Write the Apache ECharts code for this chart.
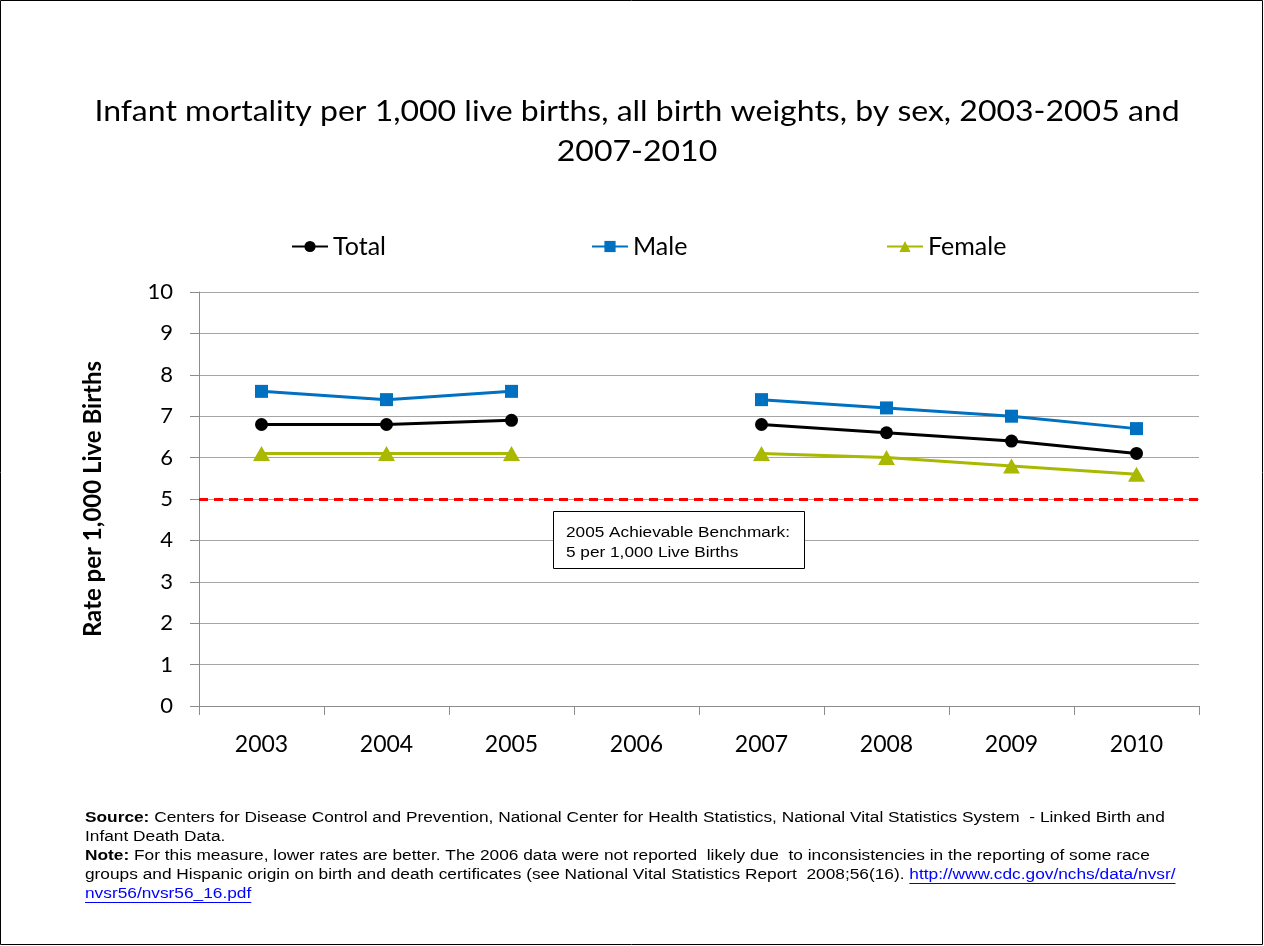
<!DOCTYPE html>
<html>
<head>
<meta charset="utf-8">
<script src="https://cdn.jsdelivr.net/npm/echarts@6/dist/echarts.min.js"></script>
<style>
html,body{margin:0;padding:0;background:#fff;}
#main{width:1264px;height:946px;}
</style>
</head>
<body>
<div id="main"></div>
<script>
const years = ['2003','2004','2005','2006','2007','2008','2009','2010'];
const totalRates = [6.8, 6.8, 6.9, null, 6.8, 6.6, 6.4, 6.1];
const maleRates = [7.6, 7.4, 7.6, null, 7.4, 7.2, 7.0, 6.7];
const femaleRates = [6.1, 6.1, 6.1, null, 6.1, 6.0, 5.8, 5.6];
const benchmark = 5;
const yTicks = [0,1,2,3,4,5,6,7,8,9,10];

const titleText = 'Infant mortality per 1,000 live births, all birth weights, by sex, 2003-2005 and\n2007-2010';
const boxText = '2005 Achievable Benchmark:\n5 per 1,000 Live Births';
const srcLine1 = 'Centers for Disease Control and Prevention, National Center for Health Statistics, National Vital Statistics System  - Linked Birth and';
const srcLine2 = 'Infant Death Data.';
const noteLine1 = 'For this measure, lower rates are better. The 2006 data were not reported  likely due  to inconsistencies in the reporting of some race';
const noteLine2 = 'groups and Hispanic origin on birth and death certificates (see National Vital Statistics Report  2008;56(16). ';
const link1 = 'http://www.cdc.gov/nchs/data/nvsr/';
const link2 = 'nvsr56/nvsr56_16.pdf';

const chart = echarts.init(document.getElementById('main'));
const calibri = 'Lato, "Open Sans", sans-serif';
const arial = '"Liberation Sans", Arial, sans-serif';
const legendText = {fontFamily: calibri, fontSize: 25, color: '#000'};

// measure text to place link underlines
const cv = document.createElement('canvas').getContext('2d');
cv.font = '14px ' + arial;
const link1Start = cv.measureText(noteLine2).width;
const link1W = cv.measureText(link1).width;
const link2W = cv.measureText(link2).width;
const footScale = 1.235;

const option = {
  backgroundColor: '#fff',
  animation: false,
  legend: [
    {data: ['Total'], left: 286, top: 229, itemWidth: 36, itemHeight: 14, textStyle: legendText},
    {data: ['Male'], left: 586, top: 229, itemWidth: 36, itemHeight: 14, textStyle: legendText},
    {data: ['Female'], left: 881, top: 229, itemWidth: 36, itemHeight: 14, textStyle: legendText}
  ],
  grid: {left: 199, right: 65, top: 292, bottom: 240, containLabel: false},
  xAxis: {
    type: 'category',
    data: years,
    boundaryGap: true,
    axisLine: {show: true, lineStyle: {color: '#8c8c8c', width: 1}},
    axisTick: {show: true, interval: 0, length: 9, lineStyle: {color: '#8c8c8c'}},
    axisLabel: {fontFamily: calibri, fontSize: 23, color: '#000', margin: 27},
    splitLine: {show: false}
  },
  yAxis: {
    type: 'value',
    min: yTicks[0],
    max: yTicks[yTicks.length - 1],
    interval: 1,
    name: 'Rate per 1,000 Live Births',
    nameLocation: 'middle',
    nameGap: 94,
    nameTextStyle: {fontFamily: calibri, fontSize: 24, fontWeight: 'bold', color: '#000'},
    axisLine: {show: true, lineStyle: {color: '#8c8c8c', width: 1}},
    axisTick: {show: true, length: 9, lineStyle: {color: '#8c8c8c'}},
    axisLabel: {fontFamily: calibri, fontSize: 22, color: '#000', margin: 26},
    splitLine: {show: true, lineStyle: {color: '#a6a6a6', width: 1}}
  },
  series: [
    {
      name: 'Total', type: 'line', data: totalRates, connectNulls: false,
      symbol: 'circle', symbolSize: 13,
      lineStyle: {color: '#000', width: 3}, itemStyle: {color: '#000'},
      z: 4
    },
    {
      name: 'Male', type: 'line', data: maleRates, connectNulls: false,
      symbol: 'rect', symbolSize: 13,
      lineStyle: {color: '#0070C0', width: 3}, itemStyle: {color: '#0070C0'},
      z: 4
    },
    {
      name: 'Female', type: 'line', data: femaleRates, connectNulls: false,
      symbol: 'triangle', symbolSize: [17, 15],
      lineStyle: {color: '#A9B800', width: 3}, itemStyle: {color: '#A9B800'},
      z: 4,
      markLine: {
        silent: true, symbol: 'none', label: {show: false},
        lineStyle: {color: '#FF0000', type: [9, 6], width: 3},
        data: [{yAxis: benchmark}]
      }
    }
  ],
  graphic: [
    {type: 'rect', shape: {x: 0.5, y: 0.5, width: 1262, height: 944}, style: {fill: 'none', stroke: '#000', lineWidth: 1}, z: 100},
    {type: 'text', x: 637, y: 92, scaleX: 1.143, z: 60,
      style: {text: titleText, font: '28px ' + calibri, fill: '#000', align: 'center', verticalAlign: 'top', lineHeight: 40}},
    {type: 'rect', shape: {x: 553.5, y: 511.5, width: 251, height: 57}, style: {fill: '#fff', stroke: '#000', lineWidth: 1}, z: 50},
    {type: 'text', x: 566, y: 523, scaleX: 1.23, z: 51,
      style: {text: boxText, font: '14px ' + arial, fill: '#000', lineHeight: 20, verticalAlign: 'top'}},
    {type: 'group', x: 85, y: 809, scaleX: footScale, z: 51, children: [
      {type: 'text', x: 0, y: 0, z: 51,
        style: {
          text: '{b|Source:} ' + srcLine1 + '\n' + srcLine2 + '\n{b|Note:} ' + noteLine1 + '\n' + noteLine2 + '{a|' + link1 + '}\n{a|' + link2 + '}',
          font: '14px ' + arial, fill: '#000', lineHeight: 19, verticalAlign: 'top',
          rich: {
            b: {fontFamily: arial, fontSize: 14, fontWeight: 'bold', fill: '#000', lineHeight: 19},
            a: {fontFamily: arial, fontSize: 14, fill: '#0000FF', lineHeight: 19}
          }
        }
      },
      {type: 'line', z: 51, shape: {x1: link1Start, y1: 74.5, x2: link1Start + link1W, y2: 74.5}, style: {stroke: '#0000FF', lineWidth: 1}},
      {type: 'line', z: 51, shape: {x1: 0, y1: 93.5, x2: link2W, y2: 93.5}, style: {stroke: '#0000FF', lineWidth: 1}}
    ]}
  ]
};
chart.setOption(option);
</script>
</body>
</html>
